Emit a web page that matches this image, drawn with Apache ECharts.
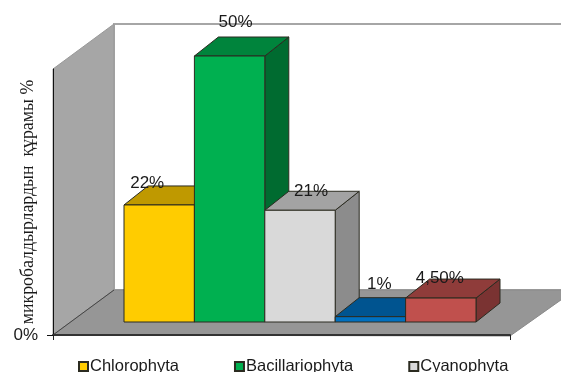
<!DOCTYPE html>
<html>
<head>
<meta charset="utf-8">
<style>html,body{margin:0;padding:0;background:#fff;overflow:hidden}#chart{width:561px;height:372px}</style>
<script src="https://cdn.jsdelivr.net/npm/echarts@6/dist/echarts.min.js"></script>
</head>
<body>
<div id="chart"></div>
<script>
// Algae group shares, one pseudo-3D column per group
const seriesNames = ['Chlorophyta', 'Bacillariophyta', 'Cyanophyta', 'Group 4', 'Group 5'];
const legendNames = ['Chlorophyta', 'Bacillariophyta', 'Cyanophyta'];
const values = [22, 50, 21, 1, 4.5];
const valueLabels = ['22%', '50%', '21%', '1%', '4,50%'];
const frontColors = ['#FFCC00', '#00B050', '#D9D9D9', '#0070C0', '#C0504D'];
const topColors = ['#BF9900', '#00843C', '#A3A3A3', '#005490', '#8F3C3A'];
const sideColors = ['#A38300', '#006B30', '#8C8C8C', '#00467A', '#7A3332'];
const labelShiftX = [-12, 6, 11, 9, -1];
const labelShiftY = [-22, -34, -19, -32, -20];
const yAxisTitle = 'микробалдырлардын  құрамы %';

// Oblique depth of each column
const depthX = 24, depthY = -19;
const edge = '#2b2b20';

function poly(points, fill) {
  return {
    type: 'polygon',
    shape: { points },
    style: { fill, stroke: edge, lineWidth: 1 }
  };
}

function column(idx) {
  return function (params, api) {
    const base = api.coord([api.value(0), 0]);
    const head = api.coord([api.value(0), api.value(1)]);
    const w = api.size([1, 0])[0];
    const l = base[0] - w / 2, r = base[0] + w / 2;
    const b = base[1], t = head[1];
    return {
      type: 'group',
      children: [
        poly([[r, t], [r + depthX, t + depthY], [r + depthX, b + depthY], [r, b]], sideColors[idx]),
        poly([[l, t], [l + depthX, t + depthY], [r + depthX, t + depthY], [r, t]], topColors[idx]),
        poly([[l, t], [r, t], [r, b], [l, b]], frontColors[idx]),
        {
          type: 'text',
          z2: 10,
          style: {
            text: valueLabels[idx],
            x: base[0] + labelShiftX[idx],
            y: t + labelShiftY[idx],
            align: 'center',
            verticalAlign: 'middle',
            fill: '#1a1a1a',
            font: '17px "Liberation Sans", Arial, sans-serif'
          }
        }
      ]
    };
  };
}

const chart = echarts.init(document.getElementById('chart'), null, { renderer: 'canvas' });

chart.setOption({
  animation: false,
  backgroundColor: '#fff',
  legend: {
    data: legendNames,
    selectedMode: false,
    left: 73,
    top: 353,
    itemWidth: 9,
    itemHeight: 9,
    itemGap: 55,
    icon: 'rect',
    textStyle: {
      fontFamily: '"Liberation Sans", Arial, sans-serif',
      fontSize: 16.5,
      color: '#1a1a1a',
      padding: [0, 0, 0, -3]
    }
  },
  grid: [
    { left: 124, top: 56, width: 352, height: 266, outerBoundsMode: 'none' },
    { left: 53, top: 69, width: 457, height: 266, outerBoundsMode: 'none' }
  ],
  xAxis: [
    {
      type: 'category',
      gridIndex: 0,
      data: seriesNames,
      axisLine: { show: false },
      axisTick: { show: false },
      axisLabel: { show: false }
    },
    {
      type: 'value',
      gridIndex: 1,
      min: 0,
      max: 1,
      splitLine: { show: false },
      axisLine: { show: true, lineStyle: { color: '#333', width: 2 } },
      axisTick: { show: true, length: 5, customValues: [0, 1], lineStyle: { color: '#222' } },
      axisLabel: { show: false }
    }
  ],
  yAxis: [
    {
      type: 'value',
      gridIndex: 0,
      min: 0,
      max: 50,
      show: false
    },
    {
      type: 'value',
      gridIndex: 1,
      min: 0,
      max: 1,
      splitLine: { show: false },
      axisLine: { show: true, lineStyle: { color: '#111', width: 1 } },
      axisTick: { show: true, length: 6, customValues: [0], lineStyle: { color: '#111' } },
      axisLabel: {
        customValues: [0],
        formatter: () => '0%',
        fontFamily: '"Liberation Sans", Arial, sans-serif',
        fontSize: 17,
        color: '#1a1a1a',
        margin: 15
      },
      name: yAxisTitle,
      nameLocation: 'middle',
      nameGap: 16,
      nameRotate: 90,
      nameMoveOverlap: false,
      nameTextStyle: {
        fontFamily: '"Liberation Serif", "Times New Roman", serif',
        fontSize: 17.8,
        color: '#1a1a1a'
      }
    }
  ],
  graphic: [
    {
      type: 'polygon', z: -3,
      shape: { points: [[114, 24], [575, 24], [575, 290], [114, 290]] },
      style: { fill: '#fff', stroke: '#a6a6a6', lineWidth: 2 }
    },
    {
      type: 'polygon', z: -2,
      shape: { points: [[53, 69], [114, 24], [114, 290], [53, 335]] },
      style: { fill: '#A6A6A6', stroke: '#999', lineWidth: 1 }
    },
    {
      type: 'polygon', z: -2,
      shape: { points: [[53, 335], [114, 290], [575, 290], [510, 336]] },
      style: { fill: '#969696', stroke: '#8a8a8a', lineWidth: 1 }
    },
    {
      type: 'line', z: -1,
      shape: { x1: 53, y1: 335, x2: 114, y2: 290 },
      style: { stroke: '#444', lineWidth: 1 }
    }
  ],
  series: seriesNames.map((name, i) => ({
    type: 'custom',
    name,
    xAxisIndex: 0,
    yAxisIndex: 0,
    z: 3 + i,
    itemStyle: { color: frontColors[i], borderColor: edge, borderWidth: 1 },
    renderItem: column(i),
    data: [[i, values[i]]],
    clip: false
  }))
});
</script>
</body>
</html>
